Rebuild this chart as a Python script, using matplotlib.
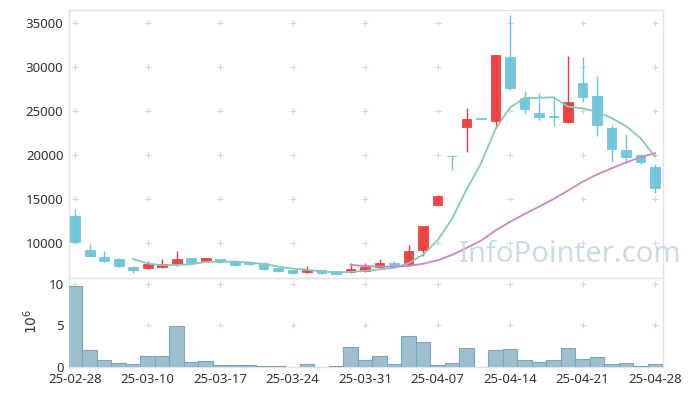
import matplotlib
matplotlib.use("Agg")
import matplotlib.pyplot as plt
import numpy as np

dates = ["25-02-28", "25-03-04", "25-03-05", "25-03-06", "25-03-07",
         "25-03-10", "25-03-11", "25-03-12", "25-03-13", "25-03-14",
         "25-03-17", "25-03-18", "25-03-19", "25-03-20", "25-03-21",
         "25-03-24", "25-03-25", "25-03-26", "25-03-27", "25-03-28",
         "25-03-31", "25-04-01", "25-04-02", "25-04-03", "25-04-04",
         "25-04-07", "25-04-08", "25-04-09", "25-04-10", "25-04-11",
         "25-04-14", "25-04-15", "25-04-16", "25-04-17", "25-04-18",
         "25-04-21", "25-04-22", "25-04-23", "25-04-24", "25-04-25",
         "25-04-28"]

opens = [13100, 9240, 8445, 8105, 7197, 7117, 7230, 7537, 8218, 7912,
         8105, 7912, 7843, 7730, 7117, 6855, 6629, 6855, 6742, 6629,
         6776, 7276, 7650, 7571, 9160, 14313, 19900, 23166, 24100, 23800,
         31111, 26458, 24755, 24360, 23688, 28160, 26720, 23052, 20590, 19943,
         18580]
closes = [10150, 8480, 7990, 7345, 6890, 7537, 7537, 8105, 7730, 8218,
          7798, 7457, 7571, 7004, 6742, 6550, 6855, 6550, 6482, 7004,
          7197, 7650, 7424, 9126, 11884, 15369, 19850, 24074, 24080, 31372,
          27593, 25209, 24256, 24335, 26072, 26571, 23348, 20669, 19716, 19148,
          16243]
highs = [13860, 9920, 9125, 8300, 7345, 7912, 8184, 9047, 8300, 8330,
         8150, 8050, 7950, 7780, 7200, 6950, 7390, 6950, 6800, 7650,
         7730, 8184, 7957, 9773, 11950, 15400, 19900, 25322, 24150, 31400,
         35912, 27230, 27025, 26600, 31293, 31111, 28990, 23450, 22370, 20100,
         18966]
lows = [10100, 8400, 7840, 7300, 6595, 7050, 7180, 7345, 7700, 7800,
        7700, 7400, 7500, 6950, 6650, 6480, 6600, 6480, 6400, 6550,
        6700, 7050, 7350, 7500, 8558, 14300, 18320, 20328, 24050, 23053,
        27400, 24676, 24000, 23234, 23600, 26071, 22100, 19200, 19080, 18966,
        15675]
volumes = [9.76, 2.05, 0.84, 0.44, 0.32, 1.33, 1.33, 4.94, 0.60, 0.72,
           0.20, 0.20, 0.20, 0.10, 0.10, 0.02, 0.35, 0.02, 0.10, 2.37,
           0.84, 1.33, 0.32, 3.73, 3.00, 0.20, 0.44, 2.25, 0.0, 2.05,
           2.13, 0.84, 0.60, 0.84, 2.25, 0.96, 1.17, 0.32, 0.44, 0.10,
           0.32]

price_ticks = [10000, 15000, 20000, 25000, 30000, 35000]
vol_ticks = [0, 5, 10]
tick_step = 5

UP = "#ee3b3d"
DOWN = "#6bc4dc"
TEXT = "#333333"
GRIDC = "#d9d9d9"
SPINE = "#e3e3e3"

plt.rcParams['font.family'] = ['Noto Sans', 'DejaVu Sans']

fig = plt.figure(figsize=(6.97, 3.96), dpi=100)
W, H = 697, 396
axL, axR = 69, 663
ax = fig.add_axes([axL / W, (H - 278) / H, (axR - axL) / W, (278 - 10) / H])
axv = fig.add_axes([axL / W, (H - 367) / H, (axR - axL) / W, (367 - 278) / H], sharex=ax)

n = len(dates)
x = np.arange(n)
o = np.array(opens, float)
c = np.array(closes, float)
hi = np.array(highs, float)
lo = np.array(lows, float)
up = c > o
cols = np.where(up, UP, DOWN)

# wicks
ax.vlines(x, lo, hi, colors=cols, linewidth=1.0, zorder=3)
# bodies
body_h = np.maximum(np.abs(c - o), 80)
body_b = np.minimum(o, c)
ax.bar(x, body_h, bottom=body_b, width=0.68, color=cols, edgecolor=cols,
       linewidth=0.6, alpha=0.95, zorder=4)

# moving averages
def ma(arr, k):
    out = np.full(len(arr), np.nan)
    for i in range(k - 1, len(arr)):
        out[i] = arr[i - k + 1:i + 1].mean()
    return out

ax.plot(x, ma(c, 5), color="#86c9b8", linewidth=1.3, zorder=5)
ax.plot(x, ma(c, 20), color="#c888c0", linewidth=1.3, zorder=5)

ax.set_xlim(-0.42, 40.55)
ax.set_ylim(6000, 36480)
ax.set_yticks(price_ticks)
ax.set_yticklabels([str(t) for t in price_ticks])

# volume
axv.bar(x, volumes, width=1.0, color="#9dc0d0", edgecolor="#7aa6bd",
        linewidth=0.8, zorder=3)
axv.set_ylim(0, 10.7)
axv.set_yticks(vol_ticks)
axv.set_yticklabels([str(t) for t in vol_ticks])

xt = list(range(0, n, tick_step))
axv.set_xticks(xt)
axv.set_xticklabels([dates[i] for i in xt])
plt.setp(ax.get_xticklabels(), visible=False)

for a in (ax, axv):
    a.tick_params(length=0, labelsize=9.5, colors=TEXT, pad=4)
    for s in a.spines.values():
        s.set_color(SPINE)
        s.set_linewidth(1.0)
    a.set_facecolor("none")

# plus-sign grid
for a, yt in ((ax, price_ticks), (axv, [5, 10])):
    gx, gy = np.meshgrid(xt, yt)
    a.plot(gx.ravel(), gy.ravel(), linestyle="none", marker="+",
           markersize=5, markeredgewidth=0.8, color=GRIDC, zorder=1)

fig.text(32 / W, (H - 321) / H, r"$10^6$", rotation=90, ha="center",
         va="center", fontsize=10, color=TEXT)

# watermark
fig.text(570 / W, (H - 254) / H, "InfoPointer.com", ha="center", va="center",
         fontsize=21, color="#b9d2de", alpha=0.75, zorder=10)

fig.savefig("out.png", dpi=100)
